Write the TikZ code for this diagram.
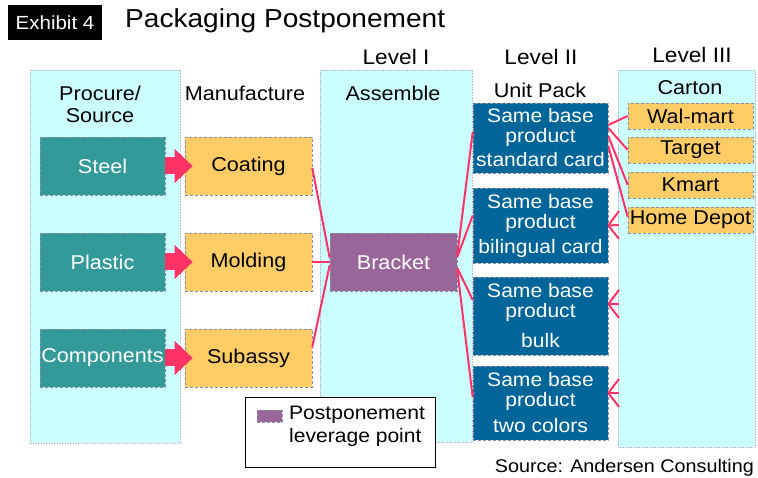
\documentclass[tikz,border=0pt]{standalone}
\usepackage{fontspec}
\setmainfont{Liberation Sans}[FakeStretch=1.08]
\usetikzlibrary{arrows.meta}
\definecolor{panelc}{HTML}{CCFFFF}
\definecolor{tealc}{HTML}{339999}
\definecolor{orangec}{HTML}{FFCC66}
\definecolor{purplec}{HTML}{996699}
\definecolor{bluec}{HTML}{006699}
\definecolor{pinkc}{HTML}{FF3366}
\definecolor{edgec}{HTML}{8A8FA8}
\newcommand{\fs}[2]{\fontsize{#1}{#2}\selectfont}
\begin{document}
\begin{tikzpicture}[x=1pt,y=-1pt,
  panel/.style={fill=panelc, draw=edgec!60, densely dotted, line width=0.6pt},
  boxbase/.style={draw=edgec, densely dashed, line width=0.6pt, inner sep=0pt, align=center},
  srcbox/.style={boxbase, fill=tealc, text=white, minimum width=125pt, minimum height=58pt, font=\fs{20}{22}},
  mfgbox/.style={boxbase, fill=orangec, text=black, minimum width=127pt, minimum height=58pt, font=\fs{20}{22}},
  asmbox/.style={boxbase, fill=purplec, text=white, minimum width=127pt, minimum height=58pt, font=\fs{20}{22}},
  upbox/.style={boxbase, fill=bluec, text=white, minimum width=135pt, font=\fs{19.5}{20}},
  ctnbox/.style={boxbase, fill=orangec, text=black, minimum width=125pt, minimum height=26pt, font=\fs{20}{20}},
  hdr/.style={inner sep=0pt, align=center, font=\fs{20}{22}},
  lvl/.style={inner sep=0pt, font=\fs{21}{22}},
  pinkline/.style={draw=pinkc, line width=2pt},
  fatarrow/.style={draw=pinkc, line width=17pt, -{Triangle[length=18pt,width=33pt]}}
]
\useasboundingbox (0,0) rectangle (758,478);

% background panels
\path[panel] (30,70) rectangle (180,443);
\path[panel] (320,70) rectangle (472,442);
\path[panel] (618,70) rectangle (755,447);

% title
\node[fill=black, text=white, minimum width=94pt, minimum height=35pt, inner sep=0pt, font=\fs{19}{20}] (exh) at (55,22.5) {Exhibit 4};
\node[anchor=west, inner sep=0pt, font=\fs{26}{28}] (title) at (125,21) {Packaging Postponement};

% level headers
\node[lvl] (l1) at (396,57) {Level I};
\node[lvl] (l2) at (541,57) {Level II};
\node[lvl] (l3) at (692,55) {Level III};

% column headers
\node[hdr] (hproc) at (100,104) {Procure/\\Source};
\node[hdr] (hmfg) at (245,93) {Manufacture};
\node[hdr] (hasm) at (393,93) {Assemble};
\node[hdr] (hup) at (540,90) {Unit Pack};
\node[hdr] (hctn) at (690,88) {Carton};

% source boxes
\node[srcbox] (steel) at (102.5,166) {Steel};
\node[srcbox] (plastic) at (102.5,262) {Plastic};
\node[srcbox] (comp) at (102.5,358) {Components};

% manufacture boxes
\node[mfgbox] (coating) at (248.5,166) {Coating};
\node[mfgbox] (molding) at (248.5,262) {Molding};
\node[mfgbox] (subassy) at (248.5,358) {Subassy};

% assemble
\node[asmbox] (bracket) at (393.5,262) {Bracket};

% unit pack
\node[upbox, minimum height=70pt] (up1) at (540.5,138) {Same base\\product\\[4pt]standard card};
\node[upbox, minimum height=75pt] (up2) at (540.5,225.5) {Same base\\product\\[5pt]bilingual card};
\node[upbox, minimum height=78pt] (up3) at (540.5,316) {Same base\\product\\[10pt]bulk};
\node[upbox, minimum height=74pt] (up4) at (540.5,403) {Same base\\product\\[6pt]two colors};

% cartons
\node[ctnbox] (walmart) at (690.5,116) {Wal-mart};
\node[ctnbox] (target) at (690.5,150) {Target};
\node[ctnbox] (kmart) at (690.5,185) {Kmart};
\node[ctnbox] (homedepot) at (690.5,220) {Home Depot};

% fat arrows
\draw[fatarrow] (steel.east) -- ([xshift=8pt]coating.west);
\draw[fatarrow] (plastic.east) -- ([xshift=8pt]molding.west);
\draw[fatarrow] (comp.east) -- ([xshift=8pt]subassy.west);

% manufacture -> bracket
\draw[pinkline] ([yshift=-2pt]coating.east) -- ([yshift=4pt]bracket.west);
\draw[pinkline] (molding.east) -- (bracket.west);
\draw[pinkline] ([yshift=11pt]subassy.east) -- ([yshift=-3pt]bracket.west);

% bracket -> unit packs
\draw[pinkline] ([yshift=7pt]bracket.east) -- ([yshift=6pt]up1.west);
\draw[pinkline] ([yshift=5pt]bracket.east) -- ([yshift=10pt]up2.west);
\draw[pinkline] ([yshift=-6pt]bracket.east) -- ([yshift=16pt]up3.west);
\draw[pinkline] ([yshift=-8pt]bracket.east) -- ([yshift=6pt]up4.west);

% unit pack 1 -> cartons
\draw[pinkline] ([yshift=13pt]up1.east) -- (walmart.west);
\draw[pinkline] ([yshift=10pt]up1.east) -- (target.west);
\draw[pinkline] ([yshift=2pt]up1.east) -- (kmart.west);
\draw[pinkline] ([yshift=-8pt]up1.east) -- ([yshift=3pt]homedepot.west);

% fork marks on the other unit packs
\coordinate (f2a) at (619,211); \coordinate (f2b) at (619,225); \coordinate (f2c) at (619,239);
\coordinate (f3a) at (619,290); \coordinate (f3b) at (619,304); \coordinate (f3c) at (619,318);
\coordinate (f4a) at (619,379); \coordinate (f4b) at (619,393); \coordinate (f4c) at (619,407);
\foreach \b/\s/\k in {up2/0/2, up3/12/3, up4/10/4}{
  \draw[pinkline] ([yshift=\s pt]\b.east) -- (f\k a);
  \draw[pinkline] ([yshift=\s pt]\b.east) -- (f\k b);
  \draw[pinkline] ([yshift=\s pt]\b.east) -- (f\k c);
}

% legend
\node[draw=black, line width=1pt, fill=white, minimum width=190pt, minimum height=70pt, inner sep=0pt] (legend) at (340,432) {};
\node[boxbase, fill=purplec, minimum width=25pt, minimum height=12pt] (swatch) at (269.5,416) {};
\node[anchor=north west, inner sep=0pt, align=left, font=\fs{19.5}{23}] (legtext) at (289,406) {Postponement\\leverage point};

% source
\node[anchor=east, inner sep=0pt, font=\fs{18.3}{20}] (src) at (754,468) {Source: Andersen Consulting};
\end{tikzpicture}
\end{document}
